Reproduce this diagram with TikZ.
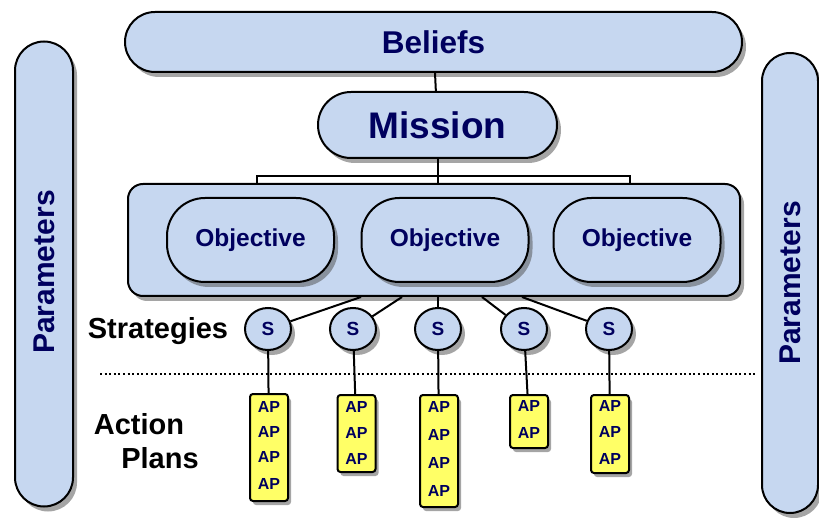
\documentclass[tikz,border=0pt]{standalone}
\usepackage{fontspec}
\setmainfont{Liberation Sans}
\usetikzlibrary{shapes,shadows,calc}
\definecolor{paleblue}{HTML}{C6D7F0}
\definecolor{navy}{HTML}{00005E}
\definecolor{apyellow}{HTML}{FFFF66}
\newcommand{\fs}[1]{\fontsize{#1}{1.2\dimexpr#1pt\relax}\selectfont\bfseries}
\tikzset{box/.style={draw,line width=2pt,fill=paleblue,text=navy,inner sep=0pt,drop shadow={shadow xshift=4pt,shadow yshift=-5pt,fill=black!70}},
  pill/.style={box,rectangle,rounded corners=#1},
  strat/.style={box,ellipse,minimum width=46,minimum height=42,font=\fs{19}},
  apbox/.style={draw,line width=2pt,fill=apyellow,rounded corners=3pt,minimum width=38,inner sep=0pt,drop shadow={shadow xshift=3pt,shadow yshift=-4pt,fill=black!70}},
  aptxt/.style={text=navy,font=\fs{16},inner sep=0pt},
  lbl/.style={font=\fs{29},inner sep=0pt},
  link/.style={line width=2pt}}
\begin{document}
\begin{tikzpicture}[x=1pt,y=-1pt]
  \useasboundingbox (0,0) rectangle (819,521);
  % side bars
  \node[pill=29pt, minimum width=58, minimum height=465] (parl) at (44,274) {};
  \node[text=navy, font=\fs{30}, rotate=90, inner sep=0pt] (tparl) at (44,272) {Parameters};
  \node[pill=28pt, minimum width=56, minimum height=460] (parr) at (790,283) {};
  \node[text=navy, font=\fs{30}, rotate=90, inner sep=0pt] (tparr) at (790,283) {Parameters};
  % top
  \node[pill=30pt, minimum width=617, minimum height=60, font=\fs{31.5}] (bel) at (433.5,42) {Beliefs};
  \node[pill=33pt, minimum width=239, minimum height=66, font=\fs{37}] (mis) at (437.5,125) {Mission};
  \node[pill=15pt, minimum width=612, minimum height=112] (cont) at (434,240) {};
  \foreach \i/\x in {1/250.5,2/445,3/637}
    \node[pill=38pt, minimum width=167, minimum height=84, font=\fs{24.5}] (obj\i) at (\x,240) {Objective};
  \draw[link] (bel) -- (mis);
  \draw[link] (mis) -- (mis |- cont.north);
  \draw[line width=1.4pt] ($(cont.north)+(-177,0)$) |- ($(cont.north)+(0,-7)$) -| ($(cont.north)+(196,0)$);
  % strategies
  \foreach \i/\x in {1/268,2/353,3/438,4/524,5/609}
    \node[strat] (s\i) at (\x,329) {S};
  \foreach \i/\dx in {1/-73,2/-32,3/4,4/48,5/88}
    \draw[link] ($(cont.south)+(\dx,0)$) -- (s\i);
  \node[lbl] (tstrat) at (158,331) {Strategies};
  \coordinate (dl) at (100,374);
  \coordinate (dr) at (757,374);
  \draw[line width=2.6pt, dash pattern=on 2pt off 2.6pt] (dl) -- (dr);
  % action plans
  \node[lbl] (tact) at (139,424) {Action};
  \node[lbl] (tpl) at (160,458) {Plans};
  \node[apbox, minimum height=107] (ap1) at (269,447.5) {};
  \node[apbox, minimum height=77] (ap2) at (356.5,433.5) {};
  \node[apbox, minimum height=112] (ap3) at (439,451) {};
  \node[apbox, minimum height=53] (ap4) at (529,421.5) {};
  \node[apbox, minimum height=78] (ap5) at (610,434) {};
  \foreach \y in {407,432,457,484} \node[aptxt] at (ap1 |- 0,\y) {AP};
  \foreach \y in {407,433,459} \node[aptxt] at (ap2 |- 0,\y) {AP};
  \foreach \y in {407,435,463,491} \node[aptxt] at (ap3 |- 0,\y) {AP};
  \foreach \y in {406,433} \node[aptxt] at (ap4 |- 0,\y) {AP};
  \foreach \y in {406,432,459} \node[aptxt] at (ap5 |- 0,\y) {AP};
  \foreach \i in {1,...,5}
    \draw[link] (s\i) -- (ap\i);
\end{tikzpicture}
\end{document}
